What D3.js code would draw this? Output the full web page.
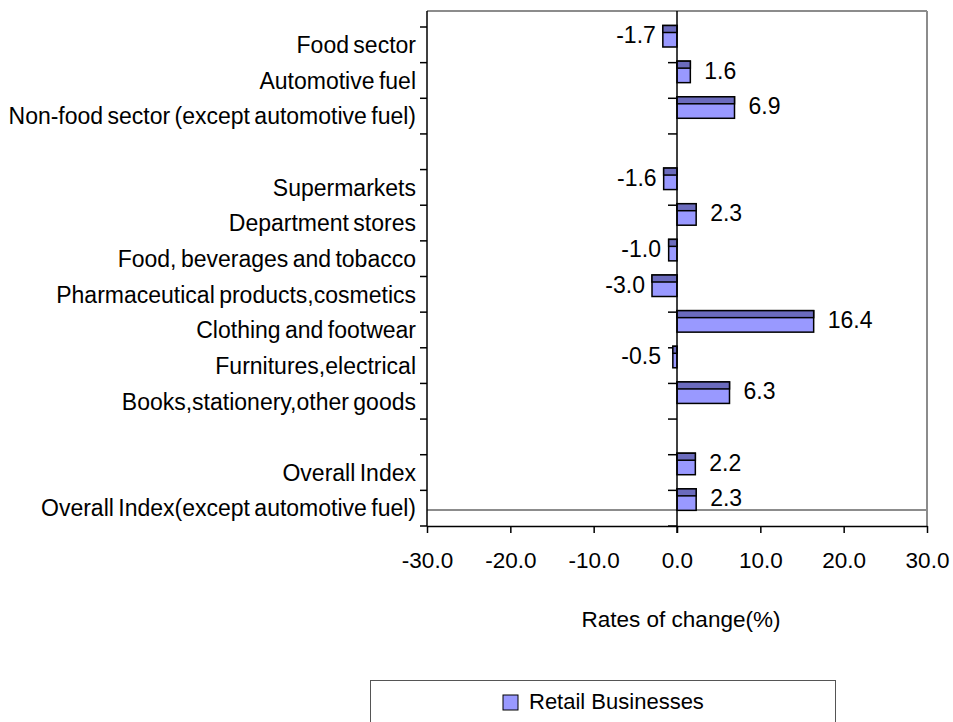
<!DOCTYPE html>
<html>
<head>
<meta charset="utf-8">
<script src="https://cdn.jsdelivr.net/npm/d3@7"></script>
<style>
  html, body { margin: 0; padding: 0; background: #fff; }
  svg { display: block; font-family: "Liberation Sans", Arial, sans-serif; }
</style>
</head>
<body>
<svg id="chart" width="953" height="722"></svg>
<script>
// ---- data ----
const categories = [
  "Food sector",
  "Automotive fuel",
  "Non-food sector (except automotive fuel)",
  "",
  "Supermarkets",
  "Department stores",
  "Food, beverages and tobacco",
  "Pharmaceutical products,cosmetics",
  "Clothing and footwear",
  "Furnitures,electrical",
  "Books,stationery,other goods",
  "",
  "Overall Index",
  "Overall Index(except automotive fuel)"
];
const values = [-1.7, 1.6, 6.9, null, -1.6, 2.3, -1.0, -3.0, 16.4, -0.5, 6.3, null, 2.2, 2.3];
const xTicks = [-30, -20, -10, 0, 10, 20, 30];
const seriesName = "Retail Businesses";
const axisTitle = "Rates of change(%)";

// ---- layout ----
const svg = d3.select("#chart");
const left = 427, right = 927, wallTop = 11, floorY = 510, axisY = 526, catTop = 27;

const x = d3.scaleLinear().domain([-30, 30]).range([left, right]);
const y = d3.scaleBand().domain(d3.range(categories.length)).range([catTop, axisY]).padding(0);

const frontColor = "#9999ff", topColor = "#6b6bbd";

// back wall border (gray)
svg.append("line").attr("x1", left).attr("x2", right).attr("y1", wallTop).attr("y2", wallTop)
  .attr("stroke", "#8c8c8c").attr("stroke-width", 2);
svg.append("line").attr("x1", right).attr("x2", right).attr("y1", wallTop).attr("y2", axisY)
  .attr("stroke", "#8c8c8c").attr("stroke-width", 2);
svg.append("line").attr("x1", left).attr("x2", right).attr("y1", floorY).attr("y2", floorY)
  .attr("stroke", "#8c8c8c").attr("stroke-width", 2);

// left axis line
svg.append("line").attr("x1", left).attr("x2", left).attr("y1", wallTop).attr("y2", axisY)
  .attr("stroke", "#000").attr("stroke-width", 1.5);

// boundary ticks (left axis and zero line)
const bounds = d3.range(categories.length + 1).map(i => i < categories.length ? y(i) : y(categories.length - 1) + y.bandwidth());
svg.append("g").selectAll("line").data(bounds).join("line")
  .attr("x1", left - 7).attr("x2", left).attr("y1", d => d).attr("y2", d => d)
  .attr("stroke", "#000").attr("stroke-width", 1.5);
svg.append("g").selectAll("line").data(bounds).join("line")
  .attr("x1", x(0) - 9).attr("x2", x(0)).attr("y1", d => d).attr("y2", d => d)
  .attr("stroke", "#000").attr("stroke-width", 1.5);

// category labels
const yAxis = d3.axisLeft(y).tickSize(0).tickPadding(11).tickFormat(i => categories[i]);
const gy = svg.append("g").attr("transform", `translate(${left},0)`).call(yAxis);
gy.select(".domain").remove();
gy.selectAll("text").attr("font-size", 23).attr("font-family", "Liberation Sans, Arial, sans-serif")
  .attr("word-spacing", "-2px")
  .attr("fill", "#000").attr("dy", "0.36em");

// x axis
const xAxis = d3.axisBottom(x).tickValues(xTicks).tickSize(7).tickSizeOuter(0).tickFormat(d => d.toFixed(1));
const gx = svg.append("g").attr("transform", `translate(0,${axisY})`).call(xAxis);
gx.select(".domain").attr("stroke", "#000").attr("stroke-width", 1.5);
gx.selectAll(".tick line").attr("stroke", "#000").attr("stroke-width", 1.5);
gx.selectAll("text").attr("font-size", 22.5).attr("font-family", "Liberation Sans, Arial, sans-serif")
  .attr("fill", "#000").attr("y", 42).attr("dy", 0);

// bars
const data = categories.map((c, i) => ({ i, c, v: values[i] })).filter(d => d.v !== null);
const barTop = -1.5, barH = 21.5, stripH = 7;
const bars = svg.append("g").selectAll("g").data(data).join("g");
bars.append("rect")
  .attr("x", d => Math.min(x(0), x(d.v)))
  .attr("y", d => y(d.i) + barTop)
  .attr("width", d => Math.abs(x(d.v) - x(0)))
  .attr("height", barH)
  .attr("fill", frontColor).attr("stroke", "#000").attr("stroke-width", 1.5);
bars.append("rect")
  .attr("x", d => Math.min(x(0), x(d.v)))
  .attr("y", d => y(d.i) + barTop)
  .attr("width", d => Math.abs(x(d.v) - x(0)))
  .attr("height", stripH)
  .attr("fill", topColor).attr("stroke", "#000").attr("stroke-width", 1.5);

// zero line
svg.append("line").attr("x1", x(0)).attr("x2", x(0)).attr("y1", wallTop).attr("y2", axisY + 7)
  .attr("stroke", "#000").attr("stroke-width", 1.5);

// value labels
bars.append("text")
  .attr("x", d => d.v >= 0 ? x(d.v) + 14 : Math.min(x(d.v), x(0) - 9) - 7)
  .attr("y", d => y(d.i) + 16)
  .attr("text-anchor", d => d.v >= 0 ? "start" : "end")
  .attr("font-size", 23).attr("fill", "#000")
  .text(d => d.v.toFixed(1));

// axis title
svg.append("text").attr("x", 681).attr("y", 627).attr("text-anchor", "middle")
  .attr("font-size", 22.5).attr("fill", "#000").text(axisTitle);

// legend
svg.append("rect").attr("x", 370.5).attr("y", 680.5).attr("width", 465).attr("height", 60)
  .attr("fill", "#fff").attr("stroke", "#555").attr("stroke-width", 1);
svg.append("rect").attr("x", 503).attr("y", 695).attr("width", 15).attr("height", 15)
  .attr("fill", frontColor).attr("stroke", "#000").attr("stroke-width", 1);
svg.append("text").attr("x", 529).attr("y", 709).attr("font-size", 22).attr("fill", "#000").text(seriesName);
</script>
</body>
</html>
